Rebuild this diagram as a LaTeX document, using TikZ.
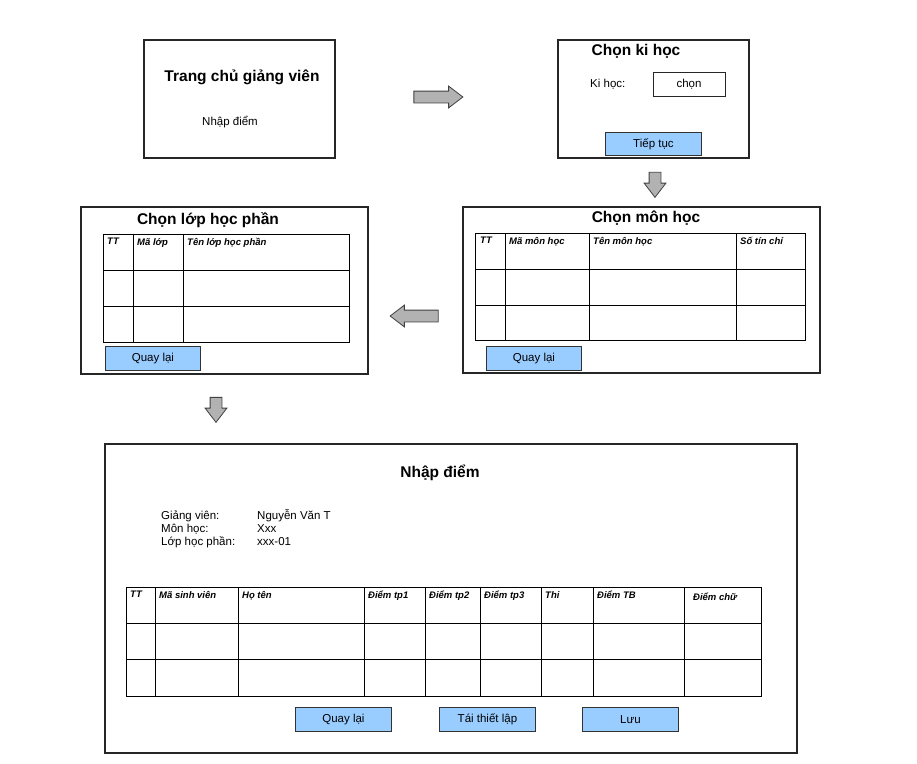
\documentclass[tikz,border=0pt]{standalone}
\usepackage{fontspec}
\setmainfont{Liberation Sans}
\usetikzlibrary{shapes.arrows}
\definecolor{btnblue}{RGB}{153,204,255}

\begin{document}
\begin{tikzpicture}[
  x=1pt, y=-1pt,
  screen/.style={draw=black!85, line width=1.1pt, inner sep=0pt, outer sep=0pt,
                 anchor=north west, fill=white},
  cell/.style={draw=black, line width=0.9pt},
  screentitle/.style={font=\fontsize{15.5}{18}\selectfont\bfseries, inner sep=0pt},
  fieldtext/.style={font=\fontsize{11.5}{13}\selectfont, inner sep=0pt},
  colhead/.style={font=\fontsize{9.5}{11}\selectfont\bfseries\itshape, inner sep=0pt, anchor=north west},
  button/.style={draw=black!80, fill=btnblue, line width=0.9pt, inner sep=0pt,
                 anchor=north west, font=\fontsize{11.5}{13}\selectfont},
  blockarrow/.style={single arrow, draw=black!75, fill=gray!60, line width=0.8pt,
                     inner xsep=0pt, inner ysep=5.5pt, single arrow head extend=5pt,
                     single arrow tip angle=75}
]
\useasboundingbox (0,0) rectangle (917,763);

% Trang chu
\node[screen, minimum width=191pt, minimum height=118pt] (home) at (144,40) {};
\node[screentitle] (homeTitle) at (242,77) {Trang chủ giảng viên};
\node[fieldtext] (homeLink) at (230,122) {Nhập điểm};

% Chon ki hoc
\node[screen, minimum width=191pt, minimum height=118pt] (term) at (558,40) {};
\node[screentitle] (termTitle) at (636,51) {Chọn ki học};
\node[fieldtext, anchor=west] (termLabel) at (590,84) {Ki học:};
\node[screen, line width=0.9pt, minimum width=72pt, minimum height=24pt, font=\fontsize{11.5}{13}\selectfont] (termPick) at (653,72) {chọn};
\node[button, minimum width=96pt, minimum height=23pt] (termNext) at (605,132) {Tiếp tục};

% Chon mon hoc
\node[screen, minimum width=357pt, minimum height=166pt] (subject) at (463,207) {};
\node[screentitle] (subjectTitle) at (646,218) {Chọn môn học};
\draw[cell] (475,233) rectangle (805,340);
\foreach \y in {269,305} \draw[cell] (475,\y) -- (805,\y);
\foreach \x in {505,589,736} \draw[cell] (\x,233) -- (\x,340);
\node[colhead] (subjectTT) at (480,237) {TT};
\node[colhead] (subjectCode) at (509,237) {Mã môn học};
\node[colhead] (subjectName) at (593,237) {Tên môn học};
\node[colhead] (subjectCredit) at (740,237) {Số tín chỉ};
\node[button, minimum width=95pt, minimum height=24pt] (subjectBack) at (486,346) {Quay lại};

% Chon lop hoc phan
\node[screen, minimum width=287pt, minimum height=167pt] (classes) at (81,207) {};
\node[screentitle] (classesTitle) at (208,220) {Chọn lớp học phần};
\draw[cell] (103,234) rectangle (349,342);
\foreach \y in {270,306} \draw[cell] (103,\y) -- (349,\y);
\foreach \x in {133,183} \draw[cell] (\x,234) -- (\x,342);
\node[colhead] (classesTT) at (107,238) {TT};
\node[colhead] (classesCode) at (137,238) {Mã lớp};
\node[colhead] (classesName) at (187,238) {Tên lớp học phần};
\node[button, minimum width=95pt, minimum height=24pt] (classesBack) at (105,346) {Quay lại};

% Nhap diem
\node[screen, minimum width=692pt, minimum height=309pt] (grading) at (105,444) {};
\node[screentitle] (gradingTitle) at (440,473) {Nhập điểm};
\node[fieldtext, anchor=base west] (teacherKey) at (161,519) {Giảng viên:};
\node[fieldtext, anchor=base west] (subjectKey) at (161,532) {Môn học:};
\node[fieldtext, anchor=base west] (classKey) at (161,545) {Lớp học phần:};
\node[fieldtext, anchor=base west] (teacherVal) at (257,519) {Nguyễn Văn T};
\node[fieldtext, anchor=base west] (subjectVal) at (257,532) {Xxx};
\node[fieldtext, anchor=base west] (classVal) at (257,545) {xxx-01};
\draw[cell] (126,587) rectangle (761,696);
\foreach \y in {623,659} \draw[cell] (126,\y) -- (761,\y);
\foreach \x in {155,238,364,425,480,541,593,684} \draw[cell] (\x,587) -- (\x,696);
\node[colhead] (gradeTT) at (130,591) {TT};
\node[colhead] (gradeCode) at (159,591) {Mã sinh viên};
\node[colhead] (gradeName) at (242,591) {Họ tên};
\node[colhead] (gradeTp1) at (368,591) {Điểm tp1};
\node[colhead] (gradeTp2) at (429,591) {Điểm tp2};
\node[colhead] (gradeTp3) at (484,591) {Điểm tp3};
\node[colhead] (gradeExam) at (545,591) {Thi};
\node[colhead] (gradeAvg) at (597,591) {Điểm TB};
\node[colhead] (gradeLetter) at (693,593) {Điểm chữ};
\node[button, minimum width=96pt, minimum height=24pt] (gradingBack) at (295,707) {Quay lại};
\node[button, minimum width=96pt, minimum height=24pt] (gradingReset) at (439,707) {Tái thiết lập};
\node[button, minimum width=96pt, minimum height=24pt] (gradingSave) at (582,707) {Lưu};

% block arrows between screens
\node[blockarrow, minimum height=49pt] (homeToTerm) at (434.5,97) {};
\node[blockarrow, minimum height=25pt, rotate=-90] (termToSubject) at (655,181) {};
\node[blockarrow, minimum height=48pt, rotate=180] (subjectToClasses) at (418,316) {};
\node[blockarrow, minimum height=25pt, rotate=-90] (classesToGrading) at (216,406) {};

\end{tikzpicture}
\end{document}
